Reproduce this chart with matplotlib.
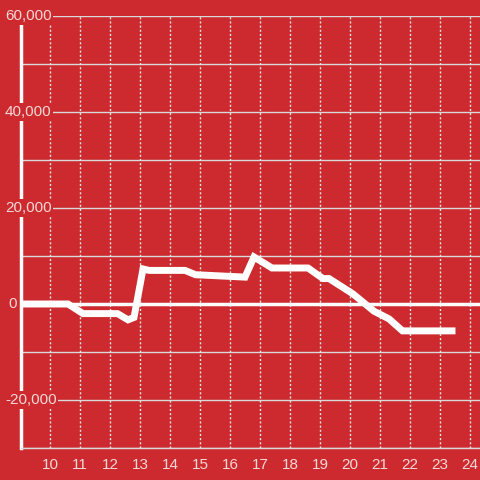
import matplotlib
matplotlib.use("Agg")
import matplotlib.pyplot as plt
import matplotlib.transforms as mtransforms

# ---------------------------
# Data
# ---------------------------
hours = [9.03, 10.6, 11.1, 12.25, 12.6, 12.8, 13.1, 13.3, 14.5, 14.85,
         16.5, 16.8, 17.4, 18.6, 19.1, 19.3, 20.1, 20.8, 21.3, 21.75, 23.4]
values = [0, 0, -2000, -2000, -3300, -2800, 7300, 7000, 7000, 6100,
          5600, 9800, 7500, 7500, 5300, 5300, 2100, -1500, -3100, -5600, -5600]

x_ticks = list(range(10, 25))
y_ticks = [-30000, -20000, -10000, 0, 10000, 20000, 30000, 40000, 50000, 60000]
y_labels = [60000, 40000, 20000, 0, -20000]

bg = "#cc2a2e"
txt = "#f5d8d8"
plt.rcParams["font.family"] = ["Liberation Sans", "DejaVu Sans"]

# ---------------------------
# Plot
# ---------------------------
fig = plt.figure(figsize=(4.8, 4.8), dpi=100, facecolor=bg)
ax = fig.add_axes([21 / 480, 32 / 480, 459 / 480, 432 / 480])
ax.set_facecolor(bg)
ax.set_xlim(9.033, 24.333)
ax.set_ylim(-30000, 60000)

# grid
for y in y_ticks:
    ax.axhline(y, color="#d9d9d9", lw=1, zorder=1)
for x in x_ticks:
    ax.axvline(x, color="#e6e6e6", lw=1, ls=(0, (1.5, 1.5)), zorder=1)
ax.axhline(0, color="white", lw=2.5, zorder=2)

# the series
ax.plot(hours, values, color="white", lw=5, solid_joinstyle="miter", zorder=3)

# spines
for s in ["top", "right"]:
    ax.spines[s].set_visible(False)
ax.spines["left"].set_color("white")
ax.spines["left"].set_linewidth(2.5)
ax.spines["bottom"].set_color("#d9d9d9")
ax.spines["bottom"].set_linewidth(1)

ax.set_yticks([])
ax.set_xticks(x_ticks)
ax.set_xticklabels([str(x) for x in x_ticks], color=txt, fontsize=11)
ax.tick_params(axis="x", length=0, pad=7)

# y labels sit on top of the plot with a background box
trans = mtransforms.blended_transform_factory(ax.transAxes, ax.transData)
for y in y_labels:
    xpos = -13 / 459 if y == 0 else -16 / 459
    ax.text(xpos, y, f"{y:,}", transform=trans, ha="left", va="center",
            color=txt, fontsize=11, zorder=5, clip_on=False,
            bbox=dict(facecolor=bg, edgecolor="none", pad=1.2))

fig.savefig("out.png", dpi=100, facecolor=bg)
